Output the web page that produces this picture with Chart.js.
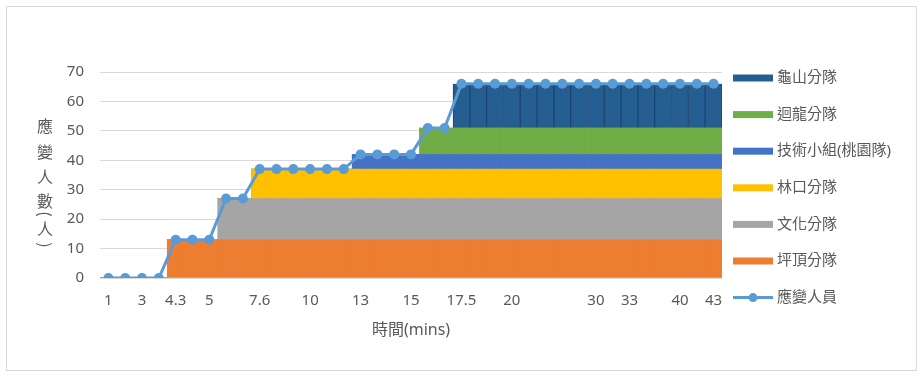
<!DOCTYPE html>
<html>
<head>
<meta charset="utf-8">
<script src="https://cdn.jsdelivr.net/npm/chart.js@4.4.1/dist/chart.umd.min.js"></script>
<style>
  html, body { margin: 0; padding: 0; background: #fff; }
  #wrap { position: relative; width: 922px; height: 374px; }
  #frame { position: absolute; left: 6px; top: 6px; width: 909px; height: 363px; border: 1px solid #d9d9d9; }
  canvas { position: absolute; left: 0; top: 0; }
</style>
</head>
<body>
<div id="wrap">
  <div id="frame"></div>
  <canvas id="chart" width="922" height="374"></canvas>
</div>
<script>
// 時間(mins) - only some categories carry a label
const timeLabels = ['1', '', '3', '', '4.3', '', '5', '', '', '7.6', '', '', '10', '', '', '13', '', '', '15', '', '',
    '17.5', '', '', '20', '', '', '', '', '30', '', '33', '', '', '40', '', '43'];

const pingding = [0, 0, 0, 0, 13, 13, 13, 13, 13, 13, 13, 13, 13, 13, 13, 13, 13, 13, 13, 13, 13,
    13, 13, 13, 13, 13, 13, 13, 13, 13, 13, 13, 13, 13, 13, 13, 13];
const wenhua = [0, 0, 0, 0, 0, 0, 0, 14, 14, 14, 14, 14, 14, 14, 14, 14, 14, 14, 14, 14, 14,
    14, 14, 14, 14, 14, 14, 14, 14, 14, 14, 14, 14, 14, 14, 14, 14];
const linkou = [0, 0, 0, 0, 0, 0, 0, 0, 0, 10, 10, 10, 10, 10, 10, 10, 10, 10, 10, 10, 10,
    10, 10, 10, 10, 10, 10, 10, 10, 10, 10, 10, 10, 10, 10, 10, 10];
const jishu = [0, 0, 0, 0, 0, 0, 0, 0, 0, 0, 0, 0, 0, 0, 0, 5, 5, 5, 5, 5, 5,
    5, 5, 5, 5, 5, 5, 5, 5, 5, 5, 5, 5, 5, 5, 5, 5];
const huilong = [0, 0, 0, 0, 0, 0, 0, 0, 0, 0, 0, 0, 0, 0, 0, 0, 0, 0, 0, 9, 9,
    9, 9, 9, 9, 9, 9, 9, 9, 9, 9, 9, 9, 9, 9, 9, 9];
const guishan = [0, 0, 0, 0, 0, 0, 0, 0, 0, 0, 0, 0, 0, 0, 0, 0, 0, 0, 0, 0, 0,
    15, 15, 15, 15, 15, 15, 15, 15, 15, 15, 15, 15, 15, 15, 15, 15];
const staff = [0, 0, 0, 0, 13, 13, 13, 27, 27, 37, 37, 37, 37, 37, 37, 42, 42, 42, 42, 51, 51,
    66, 66, 66, 66, 66, 66, 66, 66, 66, 66, 66, 66, 66, 66, 66, 66];

const yTicks = [0, 10, 20, 30, 40, 50, 60, 70];

const textColor = "#595959";
const fontFamily = "'Noto Sans', 'Noto Sans CJK TC', sans-serif";

// y title, written top to bottom like the excel one
const yTitlePlugin = {
    id: "yTitle",
    afterDraw(chart) {
        const ctx = chart.ctx;
        ctx.save();
        ctx.fillStyle = textColor;
        ctx.font = "16px 'Noto Sans CJK TC'";
        ctx.textAlign = "center";
        ctx.textBaseline = "middle";
        const x = 45;
        ctx.fillText("應", x, 126);
        ctx.fillText("變", x, 152);
        ctx.fillText("人", x, 177);
        ctx.fillText("數", x, 201);
        ctx.fillText("人", x, 229);
        // rotated brackets
        ctx.translate(x, 214);
        ctx.rotate(Math.PI / 2);
        ctx.fillText("(", 0, 0);
        ctx.restore();
        ctx.save();
        ctx.fillStyle = textColor;
        ctx.font = "16px 'Noto Sans CJK TC'";
        ctx.textAlign = "center";
        ctx.textBaseline = "middle";
        ctx.translate(x, 245);
        ctx.rotate(Math.PI / 2);
        ctx.fillText(")", 0, 0);
        ctx.restore();
    },
};

// legend on the right: bars top-down reversed, line last
const legendPlugin = {
    id: "sideLegend",
    afterDraw(chart) {
        const ctx = chart.ctx;
        const order = [5, 4, 3, 2, 1, 0, 6];
        ctx.save();
        ctx.font = "15px " + fontFamily;
        ctx.textBaseline = "middle";
        ctx.textAlign = "left";
        order.forEach(function (idx, k) {
            const ds = chart.data.datasets[idx];
            const y = 78 + 36.6 * k;
            if (ds.type === "line") {
                ctx.strokeStyle = ds.borderColor;
                ctx.lineWidth = 3;
                ctx.beginPath();
                ctx.moveTo(733, y);
                ctx.lineTo(773, y);
                ctx.stroke();
                ctx.fillStyle = ds.borderColor;
                ctx.beginPath();
                ctx.arc(753, y, 4.5, 0, Math.PI * 2);
                ctx.fill();
            } else {
                ctx.fillStyle = ds.backgroundColor;
                ctx.fillRect(733, y - 3.5, 40, 7);
            }
            ctx.fillStyle = textColor;
            ctx.fillText(ds.label, 777, y);
        });
        ctx.restore();
    },
};

function barSet(label, data, color) {
    return {
        type: "bar",
        label: label,
        data: data,
        backgroundColor: color,
        borderWidth: 0,
        stack: "teams",
        order: 1,
    };
}

let guishanSet = barSet("龜山分隊", guishan, "#255e91");
guishanSet.borderColor = "#1d4670";
guishanSet.borderWidth = { left: 1, right: 1, top: 0, bottom: 0 };
guishanSet.borderSkipped = false;

let canvas = document.getElementById("chart");
let myChart = new Chart(canvas, {
    data: {
        labels: timeLabels,
        datasets: [
            barSet("坪頂分隊", pingding, "#ed7d31"),
            barSet("文化分隊", wenhua, "#a5a5a5"),
            barSet("林口分隊", linkou, "#ffc000"),
            barSet("技術小組(桃園隊)", jishu, "#4472c4"),
            barSet("迴龍分隊", huilong, "#70ad47"),
            guishanSet,
            {
                type: "line",
                label: "應變人員",
                data: staff,
                borderColor: "#5b9bd5",
                backgroundColor: "#5b9bd5",
                borderWidth: 3,
                pointRadius: 5,
                pointBackgroundColor: "#5b9bd5",
                pointBorderWidth: 0,
                tension: 0,
                stack: "line",
                order: 0,
            },
        ],
    },
    options: {
        responsive: false,
        animation: false,
        devicePixelRatio: 1,
        layout: { padding: { left: 56, top: 72, right: 200, bottom: 26 } },
        datasets: {
            bar: { categoryPercentage: 1, barPercentage: 1 },
        },
        plugins: {
            legend: { display: false },
            tooltip: { enabled: false },
        },
        scales: {
            x: {
                stacked: true,
                grid: { display: false, drawTicks: false },
                border: { display: false },
                ticks: {
                    autoSkip: false,
                    maxRotation: 0,
                    padding: 14,
                    color: textColor,
                    font: { family: fontFamily, size: 15 },
                },
                title: {
                    display: true,
                    text: "時間(mins)",
                    color: textColor,
                    font: { family: fontFamily, size: 16 },
                    padding: { top: 0, bottom: 8 },
                },
                afterFit(scale) {
                    scale.height = 70;
                },
            },
            y: {
                stacked: true,
                min: 0,
                max: 70,
                afterBuildTicks(scale) {
                    scale.ticks = yTicks.map(function (v) { return { value: v }; });
                },
                grid: { color: "#d9d9d9", drawTicks: false },
                border: { display: false },
                ticks: {
                    padding: 16,
                    color: textColor,
                    font: { family: fontFamily, size: 15 },
                },
                afterFit(scale) {
                    scale.width = 44;
                },
            },
        },
    },
    plugins: [yTitlePlugin, legendPlugin],
});
</script>
</body>
</html>
